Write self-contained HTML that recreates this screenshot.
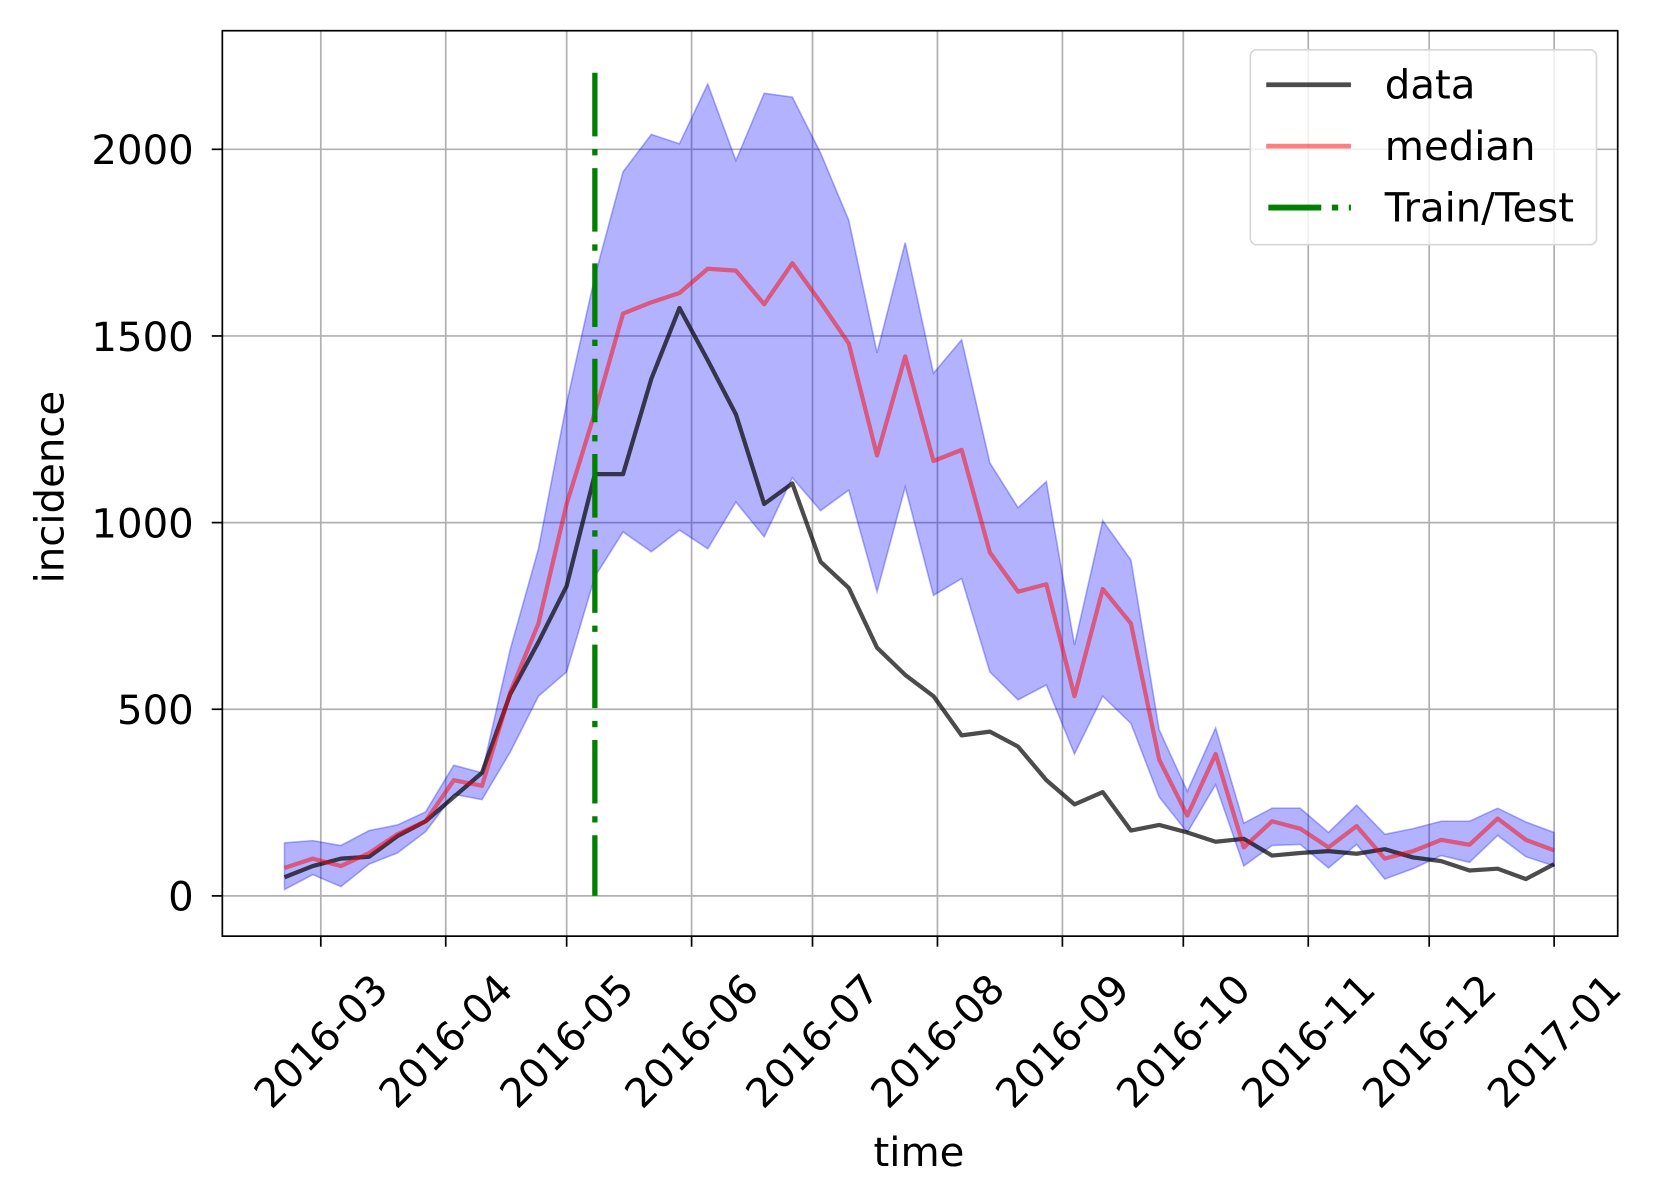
<!DOCTYPE html>
<html><head><meta charset="utf-8"><style>
html,body{margin:0;padding:0;background:#fff;}
svg{display:block;font-family:"DejaVu Sans","Liberation Sans",sans-serif;}
</style></head><body>
<svg id="chart" width="1659" height="1203" viewBox="0 0 1567 1136" preserveAspectRatio="none" xmlns="http://www.w3.org/2000/svg">
<rect x="0" y="0" width="1567" height="1136" fill="#fff"/>
<g id="grid"></g>
<g id="band"></g>
<g id="lines"></g>
<g id="axes"></g>
<text x="868" y="1101" font-size="38" text-anchor="middle">time</text>
<text transform="translate(60,460) rotate(-90)" font-size="38" text-anchor="middle">incidence</text>
<g>
<rect x="1181" y="47" width="327" height="184" rx="6" fill="#fff" fill-opacity="0.8" stroke="#d5d5d5" stroke-width="1.5"/>
<line x1="1196" y1="80" x2="1276" y2="80" stroke="#000" stroke-opacity="0.7" stroke-width="4.5"/>
<text x="1308" y="93" font-size="38">data</text>
<line x1="1196" y1="138" x2="1276" y2="138" stroke="#ff0000" stroke-opacity="0.5" stroke-width="4.5"/>
<text x="1308" y="151" font-size="38">median</text>
<line x1="1198" y1="196" x2="1276" y2="196" stroke="#008000" stroke-width="5.5" stroke-dasharray="50 10 6 10"/>
<text x="1308" y="209" font-size="38">Train/Test</text>
</g>
</svg>
<script>
const dataVals=[50,80,100,105,160,200,265,330,540,680,830,1130,1130,1385,1575,1435,1290,1050,1105,895,825,665,592,535,430,440,400,310,245,278,175,190,170,145,153,108,115,120,113,125,103,93,68,73,45,85];
const medianVals=[75,100,80,115,165,200,310,295,545,730,1050,1295,1560,1590,1615,1680,1675,1585,1695,1590,1480,1180,1445,1165,1195,920,815,835,535,822,730,365,215,380,130,200,180,130,187,100,120,150,137,207,150,122];
const upperVals=[142,148,135,175,190,225,350,330,660,930,1320,1660,1940,2040,2015,2175,1970,2150,2140,1990,1810,1455,1750,1400,1490,1160,1040,1110,672,1005,900,445,280,450,195,235,235,170,243,165,180,200,200,235,198,170];
const lowerVals=[17,57,25,85,115,172,272,258,385,535,600,855,975,922,980,930,1055,962,1120,1032,1087,815,1095,805,850,600,525,565,380,535,462,265,170,298,80,135,138,75,138,45,73,108,90,162,105,80];
const startDate="2016-02-21";
const splitDate="2016-05-08";
const xTickLabels=["2016-03","2016-04","2016-05","2016-06","2016-07","2016-08","2016-09","2016-10","2016-11","2016-12","2017-01"];
const yTickVals=[0,500,1000,1500,2000];

const NS="http://www.w3.org/2000/svg";
const L=210,R=1528,T=29,B=884;
const day0=Date.UTC(2016,2,1);
function dayOf(s){const p=s.split("-").map(Number);return (Date.UTC(p[0],p[1]-1,p[2]||1)-day0)/86400000;}
function xs(d){return 303+d*3.807;}
function ys(v){return 846-v*0.3525;}
const s0=dayOf(startDate);
function px(i){return xs(s0+7*i);}
function mk(tag,attrs,parent){const e=document.createElementNS(NS,tag);for(const k in attrs)e.setAttribute(k,attrs[k]);parent.appendChild(e);return e;}
const grid=document.getElementById("grid"),axes=document.getElementById("axes"),band=document.getElementById("band"),lines=document.getElementById("lines");
xTickLabels.forEach(lab=>{
  const x=xs(dayOf(lab));
  const g=mk("line",{x1:x,y1:T,x2:x,y2:B,stroke:"#b0b0b0","stroke-width":1.6},grid);
  
  
  const t=mk("line",{x1:x,y1:B,x2:x,y2:B+10,stroke:"#000","stroke-width":1.6},axes);
  
  
  const tx=mk("text",{transform:`translate(${x},${B+99}) rotate(-45)`,"font-size":38,"text-anchor":"middle",dy:"0.35em"},axes);
  tx.textContent=lab;
  
  
});
yTickVals.forEach(v=>{
  const y=ys(v);
  const g=mk("line",{x1:L,y1:y,x2:R,y2:y,stroke:"#b0b0b0","stroke-width":1.6},grid);
  
  
  const t=mk("line",{x1:L-10,y1:y,x2:L,y2:y,stroke:"#000","stroke-width":1.6},axes);
  
  
  const tx=mk("text",{x:L-27,y:y+14,"font-size":38,"text-anchor":"end"},axes);
  tx.textContent=String(v);
  
  
});
const fr=mk("rect",{x:L,y:T,width:R-L,height:B-T,fill:"none",stroke:"#000","stroke-width":1.6},axes);


let d="";
upperVals.forEach((v,i)=>{d+=(i?"L":"M")+px(i).toFixed(1)+","+ys(v).toFixed(1);});
for(let i=lowerVals.length-1;i>=0;i--)d+="L"+px(i).toFixed(1)+","+ys(lowerVals[i]).toFixed(1);
d+="Z";
const bp=mk("path",{d:d,fill:"#0000ff","fill-opacity":0.3,stroke:"#0000ff","stroke-opacity":0.3,"stroke-width":1.5},band);


function line(vals,attrs,name){
  const pts=vals.map((v,i)=>px(i).toFixed(1)+","+ys(v).toFixed(1)).join(" ");
  const e=mk("polyline",Object.assign({points:pts,fill:"none","stroke-linejoin":"round"},attrs),lines);
  
  
}
line(dataVals,{stroke:"#000","stroke-opacity":0.7,"stroke-width":4},"data-line");
line(medianVals,{stroke:"#ff0000","stroke-opacity":0.5,"stroke-width":4},"median-line");
const sx=xs(dayOf(splitDate));
const sl=mk("line",{x1:sx,y1:ys(2205),x2:sx,y2:ys(0),stroke:"#008000","stroke-width":5,"stroke-dasharray":"60 12 6 12"},lines);


</script>
</body></html>
